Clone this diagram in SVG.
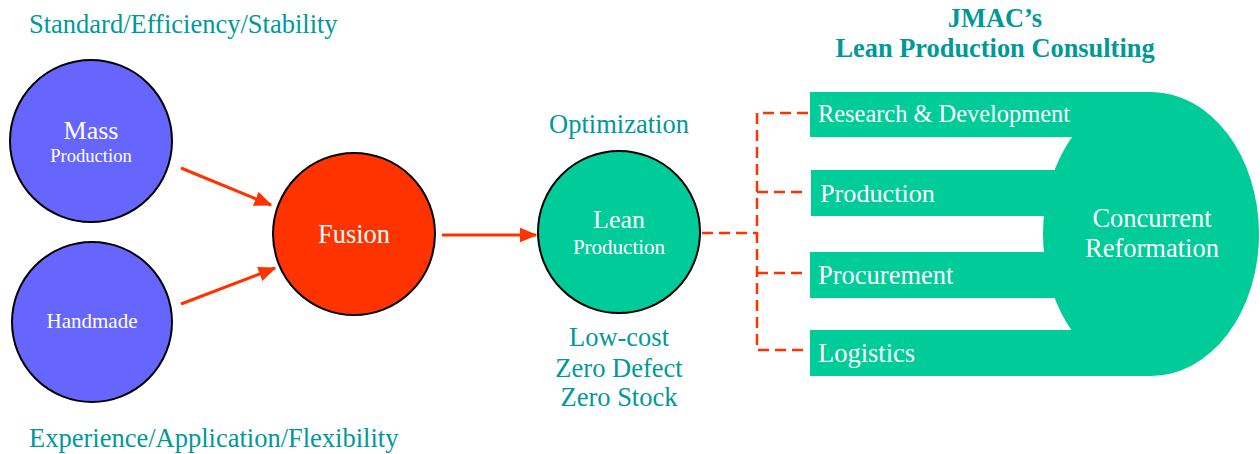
<svg xmlns="http://www.w3.org/2000/svg" width="1260" height="454" viewBox="0 0 1260 454">
<style>
text{font-family:"Liberation Serif","Times New Roman",serif}
.lbl{fill:#009999;font-size:26.5px}
.title{fill:#009999;font-size:26.4px;font-weight:bold}
.w{fill:#ffffff}
.circ{stroke:#000;stroke-width:2}
.arrow{stroke:#ff3300;stroke-width:3;fill:none}
.dash{stroke:#ff3300;stroke-width:2.5;fill:none;stroke-dasharray:11,6}
.green{fill:#00cc99}
</style>
<defs>
<marker id="ah" viewBox="0 0 12 10" refX="11" refY="5" markerWidth="6" markerHeight="5" orient="auto" markerUnits="strokeWidth">
<path d="M0,0 L12,5 L0,10 z" fill="#ff3300"/>
</marker>
</defs>
<rect width="1260" height="454" fill="#fff"/>
<text class="lbl" x="29" y="33">Standard/Efficiency/Stability</text>
<text class="lbl" x="29" y="447">Experience/Application/Flexibility</text>
<g id="title">
<text class="title" x="995" y="27" text-anchor="middle">JMAC’s</text>
<text class="title" x="995" y="57" text-anchor="middle">Lean Production Consulting</text>
</g>
<g id="connectors">
<line class="arrow" x1="181" y1="168" x2="271" y2="205" marker-end="url(#ah)"/>
<line class="arrow" x1="181" y1="304" x2="275" y2="268" marker-end="url(#ah)"/>
<line class="arrow" x1="442" y1="235" x2="536" y2="235" marker-end="url(#ah)"/>
<path class="dash" d="M702,233 H757"/>
<path class="dash" d="M808,113 H757 V350 H808"/>
<path class="dash" d="M757,192 H808 M757,273 H808"/>
</g>
<g id="mass">
<circle class="circ" cx="91" cy="141" r="81" fill="#6666ff"/>
<text class="w" x="91" y="139" text-anchor="middle" font-size="26">Mass</text>
<text class="w" x="91" y="162" text-anchor="middle" font-size="18.6">Production</text>
</g>
<g id="handmade">
<circle class="circ" cx="92" cy="322" r="80" fill="#6666ff"/>
<text class="w" x="92" y="328" text-anchor="middle" font-size="21">Handmade</text>
</g>
<g id="fusion">
<circle class="circ" cx="354" cy="234" r="81" fill="#ff3300"/>
<text class="w" x="354" y="243" text-anchor="middle" font-size="26.4">Fusion</text>
</g>
<g id="lean">
<text class="lbl" x="619" y="133" text-anchor="middle">Optimization</text>
<circle class="circ" cx="619" cy="232" r="81" fill="#00cc99"/>
<text class="w" x="619" y="228" text-anchor="middle" font-size="26">Lean</text>
<text class="w" x="619" y="254" text-anchor="middle" font-size="21">Production</text>
<text class="lbl" x="619" y="346" text-anchor="middle">Low-cost</text>
<text class="lbl" x="619" y="377" text-anchor="middle">Zero Defect</text>
<text class="lbl" x="619" y="406" text-anchor="middle">Zero Stock</text>
</g>
<g id="concurrent">
<ellipse class="green" cx="1151" cy="234" rx="108" ry="142"/>
<text class="w" x="1152" y="227" text-anchor="middle" font-size="26.5">Concurrent</text>
<text class="w" x="1152" y="257" text-anchor="middle" font-size="26.5">Reformation</text>
</g>
<g id="rd">
<rect class="green" x="810" y="92" width="341" height="45"/>
<text class="w" x="818" y="122" font-size="24.4">Research &amp; Development</text>
</g>
<g id="production">
<rect class="green" x="811" y="170" width="260" height="46"/>
<text class="w" x="820" y="202" font-size="26.2">Production</text>
</g>
<g id="procurement">
<rect class="green" x="810" y="252" width="260" height="46"/>
<text class="w" x="818" y="284" font-size="26.5">Procurement</text>
</g>
<g id="logistics">
<rect class="green" x="810" y="330" width="341" height="46"/>
<text class="w" x="818" y="362" font-size="26.5">Logistics</text>
</g>
</svg>
